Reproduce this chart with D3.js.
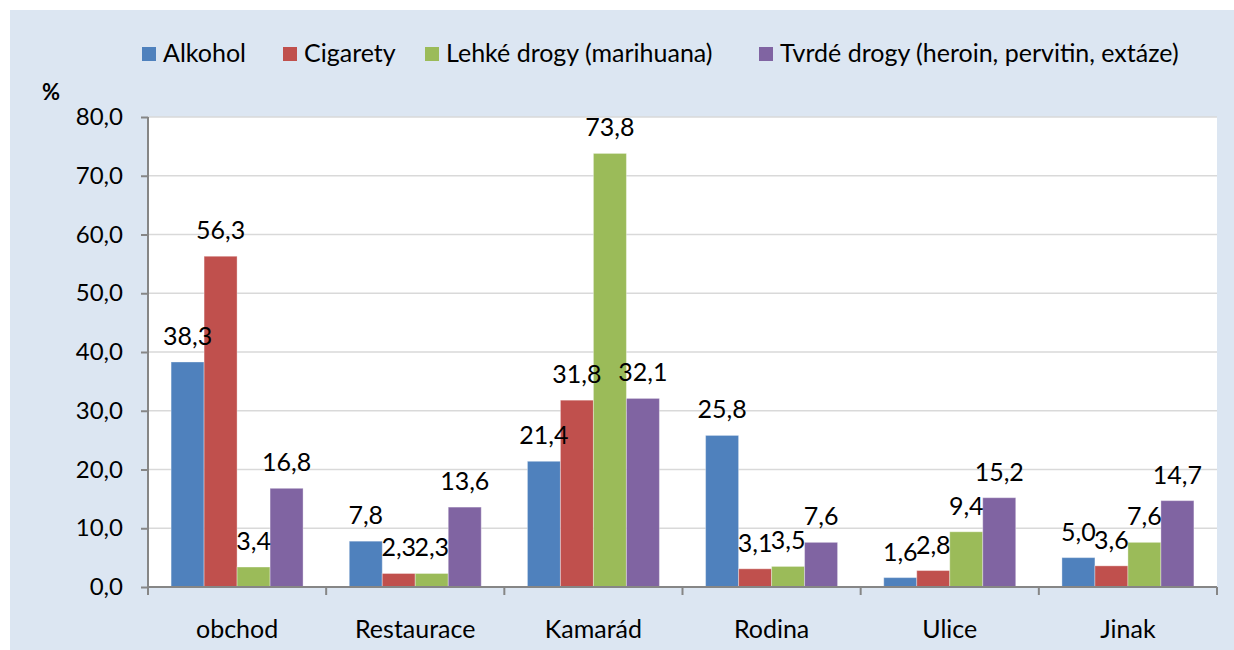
<!DOCTYPE html>
<html>
<head>
<meta charset="utf-8">
<script src="https://cdn.jsdelivr.net/npm/d3@7"></script>
<style>
  body { margin: 0; background: #fff; }
  svg { display: block; font-family: Lato, "Open Sans", sans-serif; }
</style>
</head>
<body>
<svg id="chart"></svg>
<script>
const categories = ["obchod", "Restaurace", "Kamarád", "Rodina", "Ulice", "Jinak"];
const seriesNames = ["Alkohol", "Cigarety", "Lehké drogy (marihuana)", "Tvrdé drogy (heroin, pervitin, extáze)"];
const alkohol = [38.3, 7.8, 21.4, 25.8, 1.6, 5.0];
const cigarety = [56.3, 2.3, 31.8, 3.1, 2.8, 3.6];
const lehke = [3.4, 2.3, 73.8, 3.5, 9.4, 7.6];
const tvrde = [16.8, 13.6, 32.1, 7.6, 15.2, 14.7];
const yTicks = [0, 10, 20, 30, 40, 50, 60, 70, 80];

const colors = ["#4F81BD", "#C0504D", "#9BBB59", "#8064A2"];
const seriesValues = [alkohol, cigarety, lehke, tvrde];
const fmt = v => v.toFixed(1).replace(".", ",");

const width = 1234, height = 650;
const margin = { top: 117, left: 148, bottom: 63, right: 17 };

const svg = d3.select("#chart").attr("width", width).attr("height", height);

// background panel
svg.append("rect")
  .attr("x", 10).attr("y", 10)
  .attr("width", width - 10).attr("height", height - 10)
  .attr("fill", "#DCE6F2");

const x0 = d3.scaleBand().domain(categories).range([margin.left, width - margin.right]);
const x1 = d3.scaleBand().domain(seriesNames).range([0, x0.bandwidth()]).paddingOuter(0.7);
const y = d3.scaleLinear().domain([0, 80]).range([height - margin.bottom, margin.top]);

// plot area
svg.append("rect")
  .attr("x", margin.left).attr("y", y(80))
  .attr("width", width - margin.right - margin.left)
  .attr("height", y(0) - y(80))
  .attr("fill", "#fff");

// grid
svg.append("g").selectAll("line").data(yTicks.filter(d => d > 0)).join("line")
  .attr("x1", margin.left).attr("x2", width - margin.right)
  .attr("y1", d => y(d)).attr("y2", d => y(d))
  .attr("stroke", "#D9D9D9").attr("stroke-width", 1.5);

const cells = seriesNames.flatMap((s, si) =>
  categories.map((c, ci) => ({ s, si, c, v: seriesValues[si][ci] })));

// bars
svg.append("g").selectAll("rect").data(cells).join("rect")
  .attr("x", d => x0(d.c) + x1(d.s))
  .attr("y", d => y(d.v))
  .attr("width", x1.bandwidth())
  .attr("height", d => y(0) - y(d.v))
  .attr("fill", d => colors[d.si])
  .attr("stroke", "rgba(255,255,255,0.35)")
  .attr("stroke-width", 1);

// data labels (on top of all bars)
svg.append("g").selectAll("text").data(cells).join("text")
  .attr("x", d => x0(d.c) + x1(d.s) + x1.bandwidth() / 2)
  .attr("y", d => y(d.v) - 17)
  .attr("text-anchor", "middle")
  .attr("fill", "#000")
  .attr("font-size", 25)
  .text(d => fmt(d.v));

// y axis
const yAxis = svg.append("g")
  .attr("transform", `translate(${margin.left},0)`)
  .call(d3.axisLeft(y).tickValues(yTicks).tickFormat(fmt).tickSize(7).tickPadding(18));
yAxis.select(".domain").attr("stroke", "#868686").attr("stroke-width", 2).attr("d", `M0,${y(80)}V${y(0)}`);
yAxis.selectAll(".tick line").attr("stroke", "#868686").attr("stroke-width", 2);
yAxis.selectAll(".tick text").attr("font-size", 24).attr("fill", "#000").attr("font-family", "Lato, sans-serif");

// x axis
const xAxis = svg.append("g")
  .attr("transform", `translate(0,${y(0)})`);
xAxis.append("line")
  .attr("x1", margin.left).attr("x2", width - margin.right)
  .attr("stroke", "#868686").attr("stroke-width", 2);
xAxis.selectAll(".sep").data(categories.concat(["_end"])).join("line")
  .attr("class", "sep")
  .attr("x1", (d, i) => i < categories.length ? x0(d) : width - margin.right)
  .attr("x2", (d, i) => i < categories.length ? x0(d) : width - margin.right)
  .attr("y1", 0).attr("y2", 8)
  .attr("stroke", "#868686").attr("stroke-width", 2);
xAxis.selectAll("text").data(categories).join("text")
  .attr("x", d => x0(d) + x0.bandwidth() / 2)
  .attr("y", 51)
  .attr("text-anchor", "middle")
  .attr("font-size", 25)
  .text(d => d);

// unit label
svg.append("text")
  .attr("x", 42).attr("y", 100)
  .attr("font-size", 22).attr("font-weight", "bold")
  .text("%");

// legend
const legendX = [142, 283, 425, 759];
const legend = svg.append("g").selectAll("g").data(seriesNames).join("g")
  .attr("transform", (d, i) => `translate(${legendX[i]},47)`);
legend.append("rect").attr("width", 14).attr("height", 14).attr("fill", (d, i) => colors[i]);
legend.append("text").attr("x", 21).attr("y", 15).attr("font-size", 25).text(d => d);
</script>
</body>
</html>
